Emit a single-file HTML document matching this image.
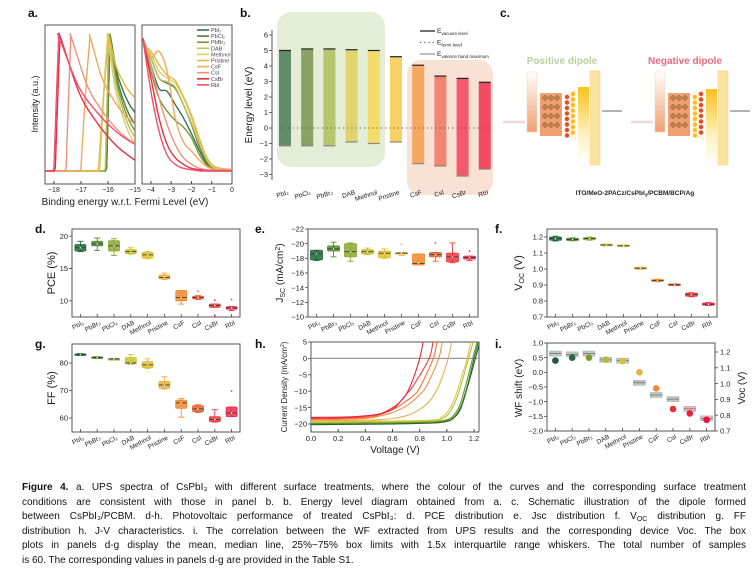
<!DOCTYPE html>
<html><head><meta charset="utf-8">
<style>
html,body{margin:0;padding:0;background:#fff;}
#wrap{position:relative;width:755px;height:584px;overflow:hidden;font-family:"Liberation Sans",sans-serif;}
svg{position:absolute;left:0;top:0;}
#cap{position:absolute;left:22px;top:481px;width:724px;font-size:10px;line-height:14.6px;color:#111;}
#cap div{text-align:justify;text-align-last:justify;white-space:nowrap;overflow:visible;height:14.6px;}
#cap div.last{text-align-last:left;}
#cap sub{font-size:7px;line-height:0;vertical-align:-2px;}
</style></head><body>
<div id="wrap">
<svg id="fig" width="755" height="584" viewBox="0 0 755 584"></svg>
<div id="cap">
<div><b>Figure 4.</b> a. UPS spectra of CsPbI₃ with different surface treatments, where the colour of the curves and the corresponding surface treatment</div>
<div>conditions are consistent with those in panel b. b. Energy level diagram obtained from a. c. Schematic illustration of the dipole formed</div>
<div>between CsPbI₃/PCBM. d-h. Photovoltaic performance of treated CsPbI₃: d. PCE distribution e. Jsc distribution f. V<sub>OC</sub> distribution g. FF</div>
<div>distribution h. J-V characteristics. i. The correlation between the WF extracted from UPS results and the corresponding device Voc. The box</div>
<div>plots in panels d-g display the mean, median line, 25%~75% box limits with 1.5x interquartile range whiskers. The total number of samples</div>
<div class="last">is 60. The corresponding values in panels d-g are provided in the Table S1.</div>
</div>
</div>
<script>
// ---------- DATA ----------
const upsNames = ['PbI2','PbCl2','PbBr2','DAB','Methnol','Pristine','CsF','CsI','CsBr','RbI'];
const upsColors = ['#3d7050','#4e7e40','#7a9a30','#b8c060','#d8d070','#e8b840','#f0a860','#f09080','#e83040','#f05070'];
const upsCutoff = [-16.05,-16.05,-16.08,-16.1,-16.3,-16.35,-17.0,-17.55,-17.95,-18.0];
const upsPeak = [-15.9,-15.9,-15.92,-15.95,-16.0,-15.95,-16.65,-17.35,-17.75,-17.8];
const upsTail = [0.44,0.35,0.3,0.25,0.2,0.55,0.35,0.2,0.08,0.2];
const vbE = [-4.4,-4,-3.6,-3.2,-2.8,-2.4,-2,-1.6,-1.2,-0.8,0];
const vbI = [
 [1,0.8,0.62,0.6,0.5,0.4,0.28,0.15,0.05,0.02,0.01],
 [1,0.85,0.7,0.66,0.62,0.5,0.35,0.18,0.06,0.02,0.01],
 [1,0.75,0.55,0.45,0.38,0.33,0.25,0.12,0.04,0.02,0.01],
 [1,0.85,0.7,0.67,0.63,0.5,0.36,0.2,0.07,0.02,0.01],
 [0.95,0.88,0.75,0.7,0.66,0.55,0.4,0.22,0.08,0.02,0.01],
 [0.95,0.9,0.8,0.72,0.68,0.56,0.42,0.24,0.09,0.03,0.01],
 [0.95,0.85,0.9,0.75,0.4,0.22,0.15,0.08,0.03,0.01,0.01],
 [1,0.8,0.55,0.35,0.2,0.1,0.05,0.02,0.01,0.01,0.01],
 [1,0.7,0.4,0.2,0.1,0.05,0.02,0.01,0,0,0],
 [1,0.6,0.3,0.12,0.05,0.02,0.01,0,0,0,0]];

const eNames = ['PbI₂','PbCl₂','PbBr₂','DAB','Methnol','Pristine','CsF','CsI','CsBr','RbI'];
const eVac = [5.0,5.1,5.1,5.05,5.0,4.6,4.05,3.35,3.2,2.95];
const eVbm = [-1.15,-1.15,-1.15,-0.9,-1.0,-0.9,-2.3,-2.45,-3.1,-2.65];
const eColors = ['#5e8c6c','#8aa264','#b6c66c','#e2d46c','#f2dc6c','#f8d064','#f6a860','#f48472','#f45a6a','#f24a62'];

const devCats = ['PbI₂','PbBr₂','PbCl₂','DAB','Methnol','Pristine','CsF','CsI','CsBr','RbI'];
const devColors = ['#1e6a3a','#4e8a30','#8aa830','#c8c030','#e0c030','#e8b040','#f08a30','#e86030','#f03a40','#f02a50'];
const pceQ1 = [17.7,18.5,17.7,17.3,16.6,13.4,10.0,10.3,9.0,8.7];
const pceQ3 = [18.7,19.2,19.3,17.9,17.5,14.0,11.6,10.7,9.5,9.1];
const pceMed = [18.2,18.8,18.5,17.6,17.1,13.6,10.5,10.5,9.3,8.9];
const pceLo = [17.6,17.8,17.0,17.2,16.5,13.3,9.5,10.2,9.0,8.5];
const pceHi = [19.2,19.7,19.6,18.2,17.6,14.3,11.6,10.8,9.5,9.1];
const pceOut = [[],[],[],[],[],[],[],[11.5],[10.1,7.7],[10.2]];

const jscQ1 = [-17.8,-19.0,-18.2,-18.6,-18.1,-18.6,-17.1,-18.2,-17.5,-17.9];
const jscQ3 = [-19.1,-19.7,-20.0,-19.2,-19.0,-18.8,-18.6,-18.8,-18.7,-18.3];
const jscMed = [-18.6,-19.3,-18.9,-18.9,-18.7,-18.7,-17.3,-18.5,-18.2,-18.1];
const jscLo = [-17.7,-18.2,-17.6,-18.5,-18.0,-18.4,-17.1,-17.6,-17.4,-17.7];
const jscHi = [-19.1,-20.2,-20.1,-19.4,-19.3,-18.8,-18.6,-18.8,-20.1,-18.3];
const jscOut = [[],[],[],[],[],[-19.9],[],[-20.1],[],[-19.0]];

const vocQ1 = [1.18,1.178,1.183,1.146,1.141,1.0,0.922,0.898,0.83,0.774];
const vocQ3 = [1.2,1.192,1.197,1.155,1.149,1.01,0.934,0.906,0.85,0.787];
const vocMed = [1.19,1.185,1.19,1.15,1.145,1.005,0.928,0.902,0.84,0.78];
const vocLo = [1.175,1.176,1.18,1.145,1.14,0.998,0.92,0.897,0.826,0.772];
const vocHi = [1.205,1.195,1.2,1.156,1.15,1.012,0.936,0.907,0.852,0.79];

const ffQ1 = [82.8,81.8,81.3,79.7,78.3,70.8,63.5,62.3,58.7,60.5];
const ffQ3 = [83.3,82.2,81.6,82.0,80.5,73.3,66.5,64.5,60.5,64.0];
const ffMed = [83.0,82.0,81.5,80.0,79.3,72.0,65.5,63.3,59.5,61.8];
const ffLo = [82.7,81.7,81.2,79.5,78.0,70.5,60.3,62.0,58.5,60.5];
const ffHi = [83.4,82.3,81.7,83.0,81.5,75.0,67.0,64.8,63.0,64.0];
const ffOut = [[],[],[],[],[],[],[],[],[],[69.8]];

const jvColors = ['#1e5a2a','#3e7a2a','#6a9a2a','#b8c040','#d8c840','#e8b050','#f09040','#f07040','#f04040','#e82040'];
const jvV = [
 [0,0.6,0.9,1.0,1.05,1.1,1.15,1.21,1.25],
 [0,0.6,0.9,1.0,1.05,1.1,1.15,1.2,1.24],
 [0,0.6,0.9,0.99,1.04,1.09,1.14,1.19,1.23],
 [0,0.6,0.9,0.97,1.02,1.07,1.12,1.16,1.2],
 [0,0.6,0.9,0.96,1.01,1.06,1.11,1.15,1.18],
 [0,0.5,0.7,0.8,0.85,0.9,0.95,1.01,1.04],
 [0,0.4,0.6,0.7,0.75,0.8,0.85,0.94,0.97],
 [0,0.4,0.55,0.65,0.7,0.75,0.8,0.9,0.93],
 [0,0.3,0.5,0.6,0.65,0.7,0.75,0.87,0.9],
 [0,0.3,0.5,0.6,0.65,0.7,0.75,0.8,0.83]];
const jvJ = [
 [-20.2,-20.0,-19.7,-19.2,-18.2,-15.5,-9,0,6],
 [-20.0,-19.8,-19.5,-19.0,-18.0,-15.0,-8.5,0,6],
 [-19.8,-19.6,-19.3,-18.8,-17.8,-14.8,-8,0,6],
 [-19.5,-19.3,-19.0,-18.3,-16.5,-12.5,-6,0,6],
 [-19.3,-19.1,-18.8,-18.0,-16.0,-12.0,-5.5,0,6],
 [-19.0,-18.7,-17.5,-15.5,-14.0,-11.5,-7.5,0,6],
 [-18.7,-18.3,-16.5,-14.5,-13.0,-11.0,-8.5,0,6],
 [-18.5,-18.0,-16.5,-14.5,-13.0,-11.5,-9.0,0,6],
 [-18.3,-18.0,-17.0,-15.0,-13.5,-11.0,-8.5,0,6],
 [-18.0,-17.8,-17.0,-15.5,-13.5,-11.0,-6.5,0,6]];

const wfCats = ['PbI₂','PbCl₂','PbBr₂','DAB','Methnol','Pristine','CsF','CsI','CsBr','RbI'];
const wfShift = [0.4,0.5,0.5,0.43,0.38,0.0,-0.55,-1.25,-1.4,-1.62];
const wfColors = ['#1e5a3a','#2a6a40','#7a9a30','#b8b840','#d8c040','#e8b040','#f08a40','#e83030','#e82040','#e01840'];
const wfVoc = [1.19,1.185,1.19,1.15,1.145,1.005,0.928,0.902,0.84,0.78];

// ---------- HELPERS ----------
const NS='http://www.w3.org/2000/svg';
const svg=document.getElementById('fig');
function el(tag,attrs,parent){const e=document.createElementNS(NS,tag);for(const k in attrs)e.setAttribute(k,attrs[k]);(parent||svg).appendChild(e);return e;}
function txt(x,y,s,attrs,parent){const t=el('text',Object.assign({x:x,y:y,'font-family':'Liberation Sans, sans-serif','font-size':8,fill:'#222'},attrs||{}),parent);t.textContent=s;return t;}
function lin(a,b,c,d){return v=>c+(v-a)/(b-a)*(d-c);}
function smooth(pts){let d='M'+pts[0][0].toFixed(1)+','+pts[0][1].toFixed(1);
 for(let i=0;i<pts.length-1;i++){const p0=pts[Math.max(0,i-1)],p1=pts[i],p2=pts[i+1],p3=pts[Math.min(pts.length-1,i+2)];
 const c1=[p1[0]+(p2[0]-p0[0])/6,p1[1]+(p2[1]-p0[1])/6],c2=[p2[0]-(p3[0]-p1[0])/6,p2[1]-(p3[1]-p1[1])/6];
 d+=' C'+c1[0].toFixed(1)+','+c1[1].toFixed(1)+' '+c2[0].toFixed(1)+','+c2[1].toFixed(1)+' '+p2[0].toFixed(1)+','+p2[1].toFixed(1);}return d;}
function panelLabel(x,y,s){const t=txt(x,y,s,{'font-size':12,'font-weight':'bold',fill:'#111'});

}
function frame(x0,y0,x1,y1,name){const r=el('rect',{x:x0,y:y0,width:x1-x0,height:y1-y0,fill:'none',stroke:'#444','stroke-width':0.9});

}
function yTicks(x,ys,vals,fmt,side){vals.forEach(v=>{const y=ys(v);el('line',{x1:side?x:x-3,x2:side?x+3:x,y1:y,y2:y,stroke:'#444','stroke-width':0.8});
const t=txt(side?x+5:x-4,y+2.7,fmt(v),{'font-size':7.5,'text-anchor':side?'start':'end'});

});}
function catLabels(cats,xs,y){cats.forEach((c,i)=>{const x=xs(i);const t=txt(x+4,y+7,c,{'font-size':6.5,'text-anchor':'end',transform:'rotate(-28 '+(x+4)+' '+(y+7)+')'});


el('line',{x1:x,x2:x,y1:y,y2:y-3,stroke:'#444','stroke-width':0.8});});}
function vTitle(x,y,s,size,name){const t=el('text',{x:x,y:y,'font-family':'Liberation Sans, sans-serif','font-size':size,fill:'#222','text-anchor':'middle',transform:'rotate(-90 '+x+' '+y+')'});t.innerHTML=s;

return t;}

function boxPanel(id,x0,y0,x1,y1,ymin,ymax,cats,q1,q3,med,lo,hi,out,ticks,fmt,bw){
 const ys=lin(ymin,ymax,y1,y0);const n=cats.length;const xs=i=>x0+(i+0.5)*(x1-x0)/n;
 frame(x0,y0,x1,y1,id+'-plot-area');
 yTicks(x0,ys,ticks,fmt,false);
 catLabels(cats,xs,y1);
 cats.forEach((c,i)=>{const cx=xs(i),col=devColors[i];
  const g=el('g',{});
  
  
  el('line',{x1:cx,x2:cx,y1:ys(lo[i]),y2:ys(hi[i]),stroke:col,'stroke-width':0.9},g);
  el('line',{x1:cx-3,x2:cx+3,y1:ys(lo[i]),y2:ys(lo[i]),stroke:col,'stroke-width':0.9},g);
  el('line',{x1:cx-3,x2:cx+3,y1:ys(hi[i]),y2:ys(hi[i]),stroke:col,'stroke-width':0.9},g);
  const ya=ys(q1[i]),yb=ys(q3[i]);
  el('rect',{x:cx-bw/2,y:Math.min(ya,yb),width:bw,height:Math.max(1.5,Math.abs(ya-yb)),fill:col,'fill-opacity':0.85,stroke:col,'stroke-width':0.8,rx:1},g);
  el('line',{x1:cx-bw/2,x2:cx+bw/2,y1:ys(med[i]),y2:ys(med[i]),stroke:'#332',"stroke-width":0.8},g);
  el('circle',{cx:cx,cy:ys(med[i]),r:0.8,fill:'#eee'},g);
  (out[i]||[]).forEach(o=>{el('circle',{cx:cx,cy:ys(o),r:0.9,fill:col},g);});
 });
}

// ---------- PANEL A ----------
panelLabel(28,17,'a.');
(function(){
 const xL=lin(-18.33,-15,45,135), xR=lin(-4.44,0,142,232), yI=lin(0,1,171,38);
 frame(45,25,135,184,'ups-left-plot-area'); frame(142,25,232,184,'ups-right-plot-area');
 [-18,-17,-16,-15].forEach(v=>{el('line',{x1:xL(v),x2:xL(v),y1:184,y2:181,stroke:'#444'});const t=txt(xL(v),192,String(v).replace('-','−'),{'font-size':7,'text-anchor':'middle'});});
 [-4,-3,-2,-1,0].forEach(v=>{el('line',{x1:xR(v),x2:xR(v),y1:184,y2:181,stroke:'#444'});const t=txt(xR(v),192,String(v).replace('-','−'),{'font-size':7,'text-anchor':'middle'});});
 vTitle(38,104,'Intensity (a.u.)',9,'y-axis-title');
 const xt=txt(125,205,'Binding energy w.r.t. Fermi Level (eV)',{'font-size':10,'text-anchor':'middle'});
 
 
 const cl=el('clipPath',{id:'clipA'});el('rect',{x:45,y:25,width:90,height:159},cl);
 const cr=el('clipPath',{id:'clipB'});el('rect',{x:142,y:25,width:90,height:159},cr);
 upsNames.forEach((nm,i)=>{
  const c=upsCutoff[i],p=upsPeak[i],t=upsTail[i];
  const pts=[[-18.33,0],[c-0.05,0],[c,0.02],[(c+p)/2,0.6],[p-0.03,0.97],[p,1]];
  const fr=[0.55,0.3,0.12,0];
  for(let k=1;k<=4;k++){pts.push([p+k*(-15-p)/4,t+(1-t)*fr[k-1]]);}
  const sp=pts.map(q=>[xL(q[0]),yI(q[1])]);
  const path=el('path',{d:'M'+sp.slice(0,3).map(q=>q.join(',')).join(' L')+smooth(sp.slice(2)).replace(/^M[^ C]+/,' L'+sp[2].join(',')),fill:'none',stroke:upsColors[i],'stroke-width':1.4,'clip-path':'url(#clipA)'});
  
  
  const rp=vbE.map((e,j)=>[xR(e),yI(vbI[i][j])]);
  const p2=el('path',{d:smooth(rp),fill:'none',stroke:upsColors[i],'stroke-width':1.4,'clip-path':'url(#clipB)'});
  
  
  const ly=30+i*6.1;
  const lg=el('g',{});
  
  
  el('line',{x1:197,x2:209,y1:ly,y2:ly,stroke:upsColors[i],'stroke-width':1.6},lg);
  txt(211,ly+2,nm.replace('2','₂'),{'font-size':5.5,fill:'#444'},lg);
 });
})();

// ---------- PANEL B ----------
panelLabel(240,17,'b.');
(function(){
 const ys=lin(0,6,128,35);const xs=i=>285+i*22.2;
 const bg1=el('rect',{x:277,y:12,width:108,height:155,rx:14,fill:'#dde9cc','fill-opacity':0.8});
 
 
 const bg2=el('rect',{x:407,y:60,width:86,height:135,rx:14,fill:'#f8dccb','fill-opacity':0.85});
 
 
 el('line',{x1:272,x2:272,y1:30,y2:180,stroke:'#444','stroke-width':0.9});
 yTicks(272,ys,[6,5,4,3,2,1,0,-1,-2,-3],v=>String(v).replace('-','−'),false);
 vTitle(252,105,'Energy level (eV)',10,'y-axis-title');
 eNames.forEach((nm,i)=>{const cx=xs(i);
  const g=el('g',{});
  
  
  el('rect',{x:cx-6,y:ys(eVac[i]),width:12,height:ys(eVbm[i])-ys(eVac[i]),fill:eColors[i]},g);
  el('line',{x1:cx-6,x2:cx+6,y1:ys(eVac[i]),y2:ys(eVac[i]),stroke:'#222','stroke-width':1.2},g);
  el('line',{x1:cx-6,x2:cx+6,y1:ys(eVbm[i]),y2:ys(eVbm[i]),stroke:'#888','stroke-width':1.2},g);
  const t=txt(cx+4,194,nm,{'font-size':6.5,'text-anchor':'end',transform:'rotate(-18 '+(cx+4)+' 194)'});
  
  
 });
 const fl=el('line',{x1:280,x2:492,y1:ys(0),y2:ys(0),stroke:'#555','stroke-width':0.9,'stroke-dasharray':'1.2,3'});
 
 
 const lg=[['E','vacuum level','#222',null],['E','fermi level','#555','1.2,3'],['E','valence band maximum','#999',null]];
 lg.forEach((l,k)=>{const y=31+k*11.5;const g=el('g',{});
  
  
  const a={x1:420,x2:435,y1:y,y2:y,stroke:l[2],'stroke-width':1.3};if(l[3])a['stroke-dasharray']=l[3];el('line',a,g);
  const t=el('text',{x:437,y:y+2,'font-family':'Liberation Sans, sans-serif','font-size':6.5,fill:'#222'},g);
  t.innerHTML='E<tspan font-size="4.5" dy="2">'+l[1]+'</tspan>';});
})();

// ---------- PANEL C ----------
panelLabel(500,17,'c.');
(function(){
 const defs=el('defs',{});
 const g1=el('linearGradient',{id:'itoG',x1:0,y1:0,x2:0,y2:1},defs);el('stop',{offset:0,'stop-color':'#fff'},g1);el('stop',{offset:1,'stop-color':'#f0a070'},g1);
 const g2=el('linearGradient',{id:'pcbmG',x1:0,y1:0,x2:0,y2:1},defs);el('stop',{offset:0,'stop-color':'#f8c020'},g2);el('stop',{offset:0.6,'stop-color':'#fff2c0'},g2);el('stop',{offset:1,'stop-color':'#fff'},g2);
 function device(ox,pos,name){
  const g=el('g',{});
  
  
  el('line',{x1:ox,x2:ox+22,y1:122,y2:122,stroke:'#f2d8d0','stroke-width':2.5},g);
  el('rect',{x:ox+24,y:72,width:10,height:60,fill:'url(#itoG)',stroke:'#f5d0c0','stroke-width':0.5},g);
  el('rect',{x:ox+37,y:93,width:22,height:43,fill:'#f0a070'},g);
  for(let r=0;r<4;r++)for(let c=0;c<3;c++){const x=ox+42+c*6,y=98+r*9;el('circle',{cx:x,cy:y,r:2.2,fill:'none',stroke:'#8a5a30','stroke-width':0.6},g);el('path',{d:'M'+(x-3)+','+y+'h6M'+x+','+(y-3)+'v6',stroke:'#8a5a30','stroke-width':0.6},g);}
  el('path',{d:'M'+(ox+61)+',93 L'+(ox+73)+',89 L'+(ox+73)+',141 L'+(ox+61)+',136Z',fill:'#fdf3e0'},g);
  for(let r=0;r<8;r++){el('circle',{cx:ox+64,cy:97+r*5.5,r:2.2,fill:pos?'#e04a30':'#f2c020'},g);el('circle',{cx:ox+70,cy:94+r*5.5,r:2.2,fill:pos?'#f2c020':'#e04a30'},g);}
  el('rect',{x:ox+75,y:pos?87:89,width:11,height:78,fill:'url(#pcbmG)'},g);
  el('rect',{x:ox+87,y:71,width:10,height:94,fill:'#fbe3a0',stroke:'#f5d080','stroke-width':0.5},g);
  el('line',{x1:ox+99,x2:ox+119,y1:111,y2:111,stroke:'#999','stroke-width':1.5},g);
 }
 device(503,true,'positive-dipole-schematic');
 device(631,false,'negative-dipole-schematic');
 const t1=txt(562,64,'Positive dipole',{'font-size':10,'font-weight':'bold',fill:'#b8d0a0','text-anchor':'middle'});
 
 const t2=txt(685,64,'Negative dipole',{'font-size':10,'font-weight':'bold',fill:'#e86a80','text-anchor':'middle'});
 
 const t3=el('text',{x:635,y:195,'font-family':'Liberation Sans, sans-serif','font-size':6.5,'font-weight':'bold',fill:'#222','text-anchor':'middle'});
 t3.innerHTML='ITO/MeO-2PACz/CsPbI<tspan font-size="4.5" dy="1.5">3</tspan><tspan dy="-1.5">/PCBM/BCP/Ag</tspan>';
 
})();

// ---------- PANELS D-G ----------
panelLabel(35,233,'d.');
boxPanel('pce',72,229,240,317,7.5,21.1,devCats,pceQ1,pceQ3,pceMed,pceLo,pceHi,pceOut,[10,15,20],v=>v,11);
vTitle(55,273,'PCE (%)',11,'y-axis-title');
panelLabel(255,233,'e.');
boxPanel('jsc',308,229,478,317,-10,-22,devCats,jscQ1,jscQ3,jscMed,jscLo,jscHi,jscOut,[-10,-12,-14,-16,-18,-20,-22],v=>String(v).replace('-','−'),12);
vTitle(283,273,'J<tspan font-size="7" dy="2">SC</tspan><tspan dy="-2"> (mA/cm</tspan><tspan font-size="7" dy="-3">2</tspan><tspan dy="3">)</tspan>',10,'y-axis-title');
panelLabel(495,233,'f.');
boxPanel('voc',547,229,717,317,0.7,1.25,devCats,vocQ1,vocQ3,vocMed,vocLo,vocHi,[[],[],[],[],[],[],[],[],[],[]],[0.7,0.8,0.9,1.0,1.1,1.2],v=>v.toFixed(1),12);
vTitle(522,273,'V<tspan font-size="7" dy="2">OC</tspan><tspan dy="-2"> (V)</tspan>',11,'y-axis-title');
panelLabel(35,348,'g.');
boxPanel('ff',72,344,240,432,54.9,86.9,devCats,ffQ1,ffQ3,ffMed,ffLo,ffHi,ffOut,[60,70,80],v=>v,11);
vTitle(55,388,'FF (%)',11,'y-axis-title');

// ---------- PANEL H ----------
panelLabel(255,348,'h.');
(function(){
 const xs=lin(0,1.2,311,474), ys=lin(-20,5,424,342);
 frame(311,342,479,432,'jv-plot-area');
 yTicks(311,ys,[5,0,-5,-10,-15,-20],v=>String(v).replace('-','−'),false);
 [0,0.2,0.4,0.6,0.8,1.0,1.2].forEach(v=>{el('line',{x1:xs(v),x2:xs(v),y1:432,y2:429,stroke:'#444'});const t=txt(xs(v),441,v.toFixed(1),{'font-size':7.5,'text-anchor':'middle'});});
 const z=el('line',{x1:311,x2:479,y1:ys(0),y2:ys(0),stroke:'#999','stroke-width':1.2});
 
 const cp=el('clipPath',{id:'clipH'});el('rect',{x:311,y:342,width:168,height:90},cp);
 jvV.forEach((vv,i)=>{const pts=vv.map((v,j)=>[xs(v),ys(jvJ[i][j])]);
  const p=el('path',{d:smooth(pts),fill:'none',stroke:jvColors[i],'stroke-width':1.1,'clip-path':'url(#clipH)'});
  
  });
 vTitle(287,387,'Current Density (mA/cm<tspan font-size="5" dy="-3">2</tspan><tspan dy="3">)</tspan>',8,'y-axis-title');
 const xt=txt(395,453,'Voltage (V)',{'font-size':10,'text-anchor':'middle'});
 
})();

// ---------- PANEL I ----------
panelLabel(495,348,'i.');
(function(){
 const x0=547,x1=715,y0=343,y1=431;const yl=lin(-2,1,y1,y0), yr=lin(0.7,1.2,431,352);
 const xs=i=>x0+(i+0.5)*(x1-x0)/10;
 frame(x0,y0,x1,y1,'wf-voc-plot-area');
 yTicks(x0,yl,[1,0.5,0,-0.5,-1,-1.5,-2],v=>v.toFixed(1).replace('-','−'),false);
 yTicks(x1,yr,[0.7,0.8,0.9,1.0,1.1,1.2],v=>v.toFixed(1),true);
 catLabels(wfCats,xs,y1);
 wfCats.forEach((c,i)=>{const cx=xs(i);
  const b=el('rect',{x:cx-6,y:yr(wfVoc[i])-2.5,width:12,height:5,fill:i>7?'#e8b8c0':'#c0c8c0',stroke:'#9aa','stroke-width':0.5});
  
  
  el('line',{x1:cx-6,x2:cx+6,y1:yr(wfVoc[i]),y2:yr(wfVoc[i]),stroke:'#555','stroke-width':0.6});
  const d=el('circle',{cx:cx,cy:yl(wfShift[i]),r:3.3,fill:wfColors[i]});
  
  
 });
 vTitle(522,388,'WF shift (eV)',10,'y-axis-title-left');
 vTitle(745,388,'Voc (V)',10,'y-axis-title-right');
})();
</script>
</body></html>
